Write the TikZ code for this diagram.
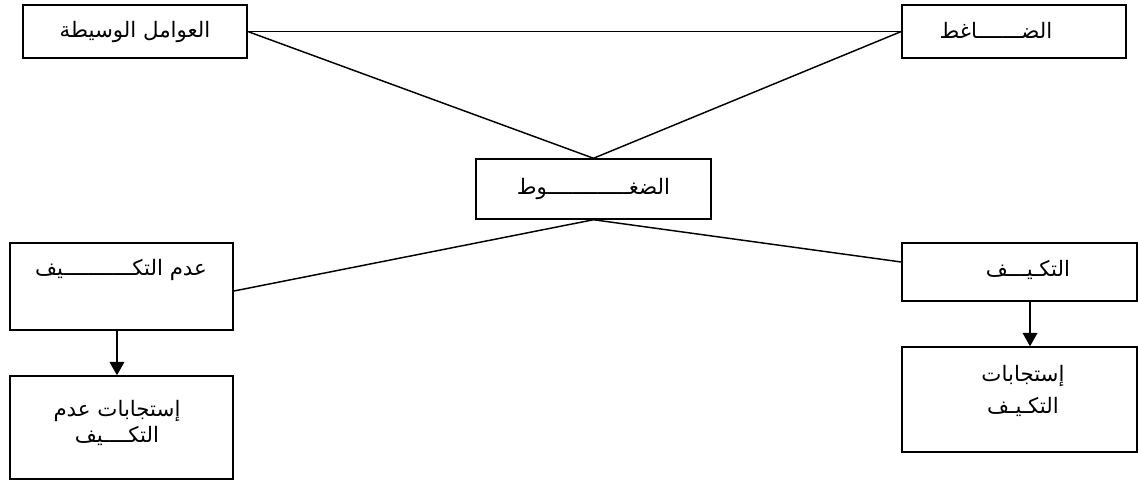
\documentclass[tikz,border=0pt]{standalone}
\usepackage{fontspec}
\newfontfamily\arabicfont[Script=Arabic]{DejaVu Sans}
\TeXXeTstate=1
\usetikzlibrary{arrows.meta}

\begin{document}
\begin{tikzpicture}[x=0.75pt,y=0.75pt,yscale=-1,xscale=1,
	box/.style={draw,line width=1.1pt,inner sep=0pt,align=center,font=\arabicfont\fontsize{16}{20}\selectfont},
	lbl/.style={inner sep=0pt,align=center,font=\arabicfont\fontsize{16}{20}\selectfont},
	link/.style={line width=1.1pt},
	arr/.style={line width=1.1pt,-{Triangle[width=11pt,length=10pt]}}]
	\useasboundingbox (0,0) rectangle (1138,482);
	% top row
	\node [box,minimum width=168pt,minimum height=39.75pt] (wasita) at (135,31.5) {\beginR العوامل الوسيطة\endR};
	\node [box,minimum width=168pt,minimum height=39.75pt] (daghit) at (1014,31.5) {};
	\node [lbl] (daghitT) at (996,30) {\beginR الضـــــــاغط\endR};
	\node [box,minimum width=176.25pt,minimum height=45pt] (dughut) at (593.5,189) {\beginR الضغـــــــــــــوط\endR};
	% left side
	\node [box,minimum width=167.25pt,minimum height=65.25pt] (adam) at (121.5,286.5) {};
	\node [lbl] (adamT) at (121,270) {\beginR عدم التكـــــــــــيف\endR};
	\node [box,minimum width=167.25pt,minimum height=77.25pt] (istA) at (121.5,427.5) {};
	\node [lbl] (istAT) at (117,423) {\beginR إستجابات عدم\endR\\\beginR التكــــيف\endR};
	% right side
	\node [box,minimum width=176.25pt,minimum height=43.5pt] (takayyuf) at (1019.5,272) {};
	\node [lbl] (takayyufT) at (1028,270) {\beginR التكـيـــف\endR};
	\node [box,minimum width=176.25pt,minimum height=78.75pt] (istT) at (1019.5,399.5) {};
	\node [lbl,font=\arabicfont\fontsize{16}{24}\selectfont] (istTT) at (1023,391) {\beginR إستجابات\endR\\\beginR التكـيـف\endR};
	% connectors
	\draw [link] (wasita.east) -- (daghit.west);
	\draw [link] (wasita.east) -- (dughut.north);
	\draw [link] (daghit.west) -- (dughut.north);
	\draw [link] (dughut.south) -- ([yshift=3.4pt]adam.east);
	\draw [link] (dughut.south) -- ([yshift=-7.5pt]takayyuf.west);
	\draw [arr] ([xshift=-3.4pt]adam.south) -- ([xshift=-3.4pt]istA.north);
	\draw [arr] ([xshift=7.9pt]takayyuf.south) -- ([xshift=7.9pt]istT.north);
\end{tikzpicture}
\end{document}
